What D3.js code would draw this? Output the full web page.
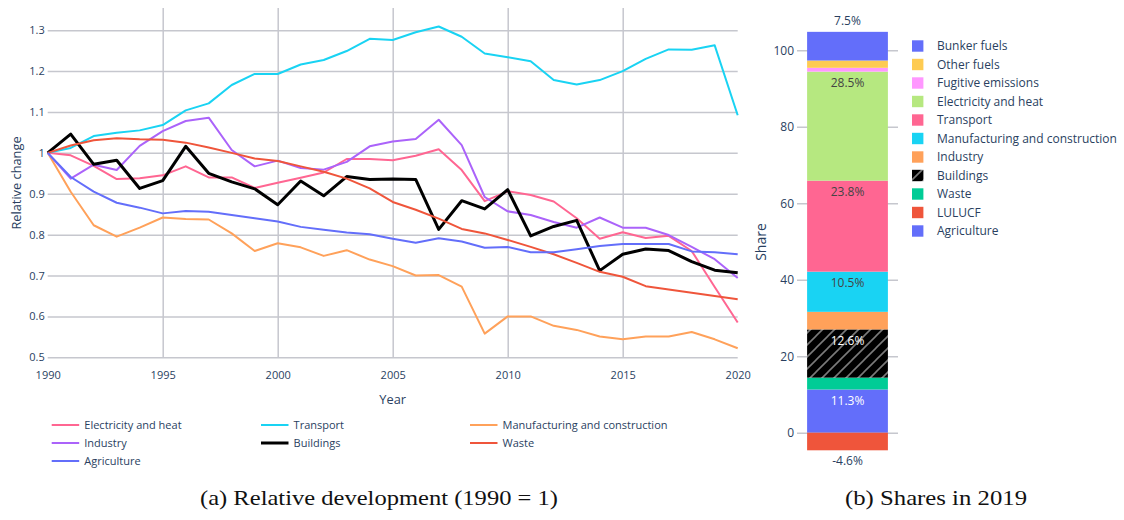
<!DOCTYPE html>
<html><head><meta charset="utf-8">
<script src="https://cdn.jsdelivr.net/npm/d3@7"></script>
<style>
body{margin:0;background:#fff}
svg{display:block;font-family:"Open Sans",sans-serif}
</style>
</head><body>
<svg id="c" width="1124" height="520"></svg>
<script>
// ---------- data: relative development (1990 = 1) ----------
const years = [1990,1991,1992,1993,1994,1995,1996,1997,1998,1999,2000,2001,2002,2003,2004,2005,2006,2007,2008,2009,2010,2011,2012,2013,2014,2015,2016,2017,2018,2019,2020];
const electricityHeat = [1.000,0.994,0.968,0.936,0.938,0.945,0.967,0.940,0.940,0.914,0.927,0.939,0.952,0.985,0.985,0.982,0.993,1.009,0.958,0.882,0.906,0.897,0.881,0.840,0.790,0.806,0.792,0.797,0.760,0.672,0.585];
const transport = [1.000,1.012,1.041,1.049,1.055,1.068,1.104,1.121,1.166,1.193,1.193,1.216,1.227,1.249,1.279,1.276,1.295,1.309,1.284,1.243,1.234,1.224,1.178,1.167,1.178,1.200,1.230,1.253,1.252,1.263,1.092];
const manufacturing = [1.000,0.905,0.823,0.795,0.817,0.842,0.838,0.837,0.803,0.760,0.779,0.769,0.748,0.762,0.739,0.723,0.700,0.701,0.673,0.558,0.600,0.600,0.577,0.567,0.551,0.544,0.551,0.551,0.562,0.544,0.522];
const industry = [1.000,0.937,0.971,0.958,1.017,1.053,1.078,1.086,1.007,0.967,0.981,0.963,0.959,0.978,1.016,1.028,1.034,1.081,1.019,0.892,0.857,0.848,0.831,0.817,0.842,0.817,0.817,0.799,0.770,0.740,0.694];
const buildings = [1.000,1.046,0.972,0.982,0.913,0.932,1.016,0.950,0.929,0.912,0.873,0.931,0.895,0.942,0.935,0.936,0.935,0.813,0.883,0.863,0.910,0.797,0.820,0.835,0.712,0.752,0.765,0.761,0.734,0.713,0.707];
const waste = [1.000,1.018,1.031,1.036,1.033,1.032,1.025,1.013,1.000,0.986,0.980,0.967,0.954,0.937,0.913,0.880,0.861,0.839,0.814,0.803,0.787,0.770,0.752,0.731,0.709,0.697,0.674,0.666,0.658,0.650,0.642];
const agriculture = [1.000,0.941,0.905,0.878,0.866,0.852,0.858,0.856,0.848,0.840,0.832,0.819,0.812,0.805,0.801,0.790,0.780,0.791,0.783,0.768,0.770,0.757,0.757,0.764,0.772,0.777,0.777,0.777,0.759,0.757,0.752];
const lineNames = ["Electricity and heat","Transport","Manufacturing and construction","Industry","Buildings","Waste","Agriculture"];
const lineColors = ["#FF6692","#19D3F3","#FFA15A","#AB63FA","#000000","#EF553B","#636EFA"];
const lineValues = [electricityHeat, transport, manufacturing, industry, buildings, waste, agriculture];
const yearTicks = [1990,1995,2000,2005,2010,2015,2020];
const relTicks = [0.5,0.6,0.7,0.8,0.9,1.0,1.1,1.2,1.3];

// ---------- data: shares in 2019 ----------
const shareNames = ["Agriculture","LULUCF","Waste","Buildings","Industry","Manufacturing and construction","Transport","Electricity and heat","Fugitive emissions","Other fuels","Bunker fuels"];
const shareValues = [11.3,-4.6,3.1,12.6,4.6,10.5,23.8,28.5,1.0,1.9,7.5];
const shareColors = ["#636EFA","#EF553B","#00CC96","#000000","#FFA15A","#19D3F3","#FF6692","#B6E880","#FF97FF","#FECB52","#636EFA"];
const shareLabels = ["11.3%","-4.6%","","12.6%","","10.5%","23.8%","28.5%","","","7.5%"];
const shareTicks = [0,20,40,60,80,100];

const captionA = "(a) Relative development (1990 = 1)";
const captionB = "(b) Shares in 2019";

const svg = d3.select("#c");
const tickColor = "#2a3f5f";
const gridColor = "#c6c7ce";

// hatch pattern for Buildings
const defs = svg.append("defs");
const pat = defs.append("pattern").attr("id","hatch").attr("patternUnits","userSpaceOnUse")
  .attr("width",12).attr("height",12);
pat.append("rect").attr("width",12).attr("height",12).attr("fill","#000");
pat.append("path").attr("d","M0,12 L12,0 M-3,3 L3,-3 M9,15 L15,9")
  .attr("stroke","#7a7a7a").attr("stroke-width",1.6);

// ================= Left chart =================
const L = {left:47.7, right:737.7, top:8, bottom:358};
const x = d3.scaleLinear().domain([1990,2020]).range([L.left, L.right]);
const y = d3.scaleLinear().domain([0.5,1.3]).range([357.3, 30.2]);

const gy = svg.append("g").attr("transform",`translate(${L.left},0)`)
  .call(d3.axisLeft(y).tickValues(relTicks).tickSize(-(L.right-L.left)).tickPadding(3).tickFormat(d3.format("~g")));
gy.select(".domain").remove();
gy.selectAll("line").attr("stroke",gridColor).attr("stroke-width",1.5);
gy.selectAll("text").attr("fill",tickColor).attr("font-size",11).attr("font-family","Open Sans");

const gx = svg.append("g").attr("transform",`translate(0,${L.bottom})`)
  .call(d3.axisBottom(x).tickValues(yearTicks).tickSize(-(L.bottom-L.top)).tickPadding(13).tickFormat(d3.format("d")));
gx.select(".domain").remove();
gx.selectAll("line").attr("stroke",gridColor).attr("stroke-width",1.5)
  .attr("opacity", d => (d===1990||d===2020)?0:1);
gx.selectAll("text").attr("fill",tickColor).attr("font-size",11).attr("font-family","Open Sans");

const line = d3.line().x((d,i)=>x(years[i])).y(d=>y(d));
lineValues.forEach((vals,k)=>{
  svg.append("path").datum(vals).attr("d",line).attr("fill","none")
    .attr("stroke",lineColors[k]).attr("stroke-width", lineNames[k]==="Buildings"?3:2)
    .attr("stroke-linejoin","round");
});

svg.append("text").attr("x",392.7).attr("y",404).attr("text-anchor","middle")
  .attr("fill",tickColor).attr("font-size",12.8).text("Year");
svg.append("text").attr("transform","translate(21,183) rotate(-90)").attr("text-anchor","middle")
  .attr("fill",tickColor).attr("font-size",12.8).text("Relative change");

// left legend
const legCols = [51.7, 261, 470];
const legRows = [425, 443, 461];
lineNames.forEach((n,i)=>{
  const cx = legCols[i%3], cy = legRows[Math.floor(i/3)];
  svg.append("line").attr("x1",cx).attr("x2",cx+27.5).attr("y1",cy).attr("y2",cy)
    .attr("stroke",lineColors[i]).attr("stroke-width", n==="Buildings"?3:2);
  svg.append("text").attr("x",cx+32.6).attr("y",cy).attr("dy","0.35em")
    .attr("fill",tickColor).attr("font-size",11).text(n);
});

// ================= Right chart =================
const R = {left:797, right:898};
const ys = d3.scaleLinear().domain([0,100]).range([432.7, 50.2]);
const band = d3.scaleBand().domain(["2019"]).range([R.left, R.right]).paddingInner(0.2).paddingOuter(0.1);

const gs = svg.append("g").attr("transform",`translate(${R.left},0)`)
  .call(d3.axisLeft(ys).tickValues(shareTicks).tickSize(-(R.right-R.left)).tickPadding(3));
gs.select(".domain").remove();
gs.selectAll("line").attr("stroke",gridColor).attr("stroke-width",1.5);
gs.selectAll("text").attr("fill",tickColor).attr("font-size",12).attr("font-family","Open Sans");

let pos = 0, neg = 0;
const segs = shareValues.map((v,i)=>{
  let y0, y1;
  if (v >= 0) { y0 = pos; y1 = pos + v; pos = y1; } else { y0 = neg; y1 = neg + v; neg = y1; }
  return {name:shareNames[i], v, y0, y1, color:shareColors[i], label:shareLabels[i]};
});
const bx = band("2019"), bw = band.bandwidth();
segs.forEach(s=>{
  svg.append("rect").attr("x",bx).attr("width",bw)
    .attr("y", ys(Math.max(s.y0,s.y1))).attr("height", Math.abs(ys(s.y0)-ys(s.y1)))
    .attr("fill", s.name==="Buildings" ? "url(#hatch)" : s.color);
});
segs.forEach(s=>{
  if (!s.label) return;
  let ty, col;
  if (s.name==="Bunker fuels") { ty = ys(s.y1) - 10.6; col = tickColor; }
  else if (s.v < 0) { ty = ys(s.y1) + 11; col = tickColor; }
  else { ty = ys(s.y1) + 11; col = (s.name==="Buildings"||s.name==="Agriculture") ? "#fff" : "#444"; }
  svg.append("text").attr("x", bx+bw/2).attr("y", ty).attr("dy","0.35em").attr("text-anchor","middle")
    .attr("fill", col).attr("font-size",12).text(s.label);
});

svg.append("text").attr("transform","translate(766,242) rotate(-90)").attr("text-anchor","middle")
  .attr("fill",tickColor).attr("font-size",14).text("Share");

// right legend (reversed trace order)
const legItems = segs.slice().reverse();
legItems.forEach((s,i)=>{
  const cy = 46 + i*18.5;
  svg.append("rect").attr("x",912).attr("y",cy-5.7).attr("width",11.4).attr("height",11.4)
    .attr("fill", s.name==="Buildings" ? "url(#hatch)" : s.color);
  svg.append("text").attr("x",937).attr("y",cy).attr("dy","0.35em")
    .attr("fill",tickColor).attr("font-size",12).text(s.name);
});

// captions (serif)
svg.append("text").attr("x",379).attr("y",505).attr("text-anchor","middle")
  .style("font-family","'Liberation Serif', serif").style("font-size","22px")
  .attr("textLength",358).attr("lengthAdjust","spacingAndGlyphs")
  .attr("fill","#111").text(captionA);
svg.append("text").attr("x",936).attr("y",505).attr("text-anchor","middle")
  .style("font-family","'Liberation Serif', serif").style("font-size","22px")
  .attr("textLength",182).attr("lengthAdjust","spacingAndGlyphs")
  .attr("fill","#111").text(captionB);
</script>
</body></html>
